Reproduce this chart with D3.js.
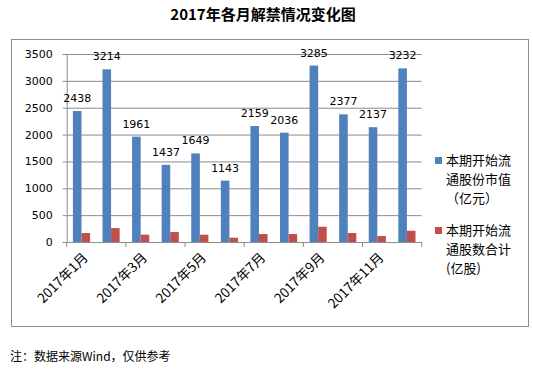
<!DOCTYPE html>
<html>
<head>
<meta charset="utf-8">
<script src="https://cdn.jsdelivr.net/npm/d3@7"></script>
<style>
  body { margin: 0; background: #fff; }
  svg { display: block; }
</style>
</head>
<body>
<svg id="chart" width="533" height="372"></svg>
<script>
// data
var months = ["2017年1月", "2017年2月", "2017年3月", "2017年4月", "2017年5月", "2017年6月",
  "2017年7月", "2017年8月", "2017年9月", "2017年10月", "2017年11月", "2017年12月"];
var marketValue = [2438, 3214, 1961, 1437, 1649, 1143, 2159, 2036, 3285, 2377, 2137, 3232]; // 亿元
var shareCount = [167, 259, 136, 185, 136, 80, 148, 148, 284, 167, 111, 210];              // 亿股
var seriesNames = [["本期开始流", "通股份市值", "（亿元）"], ["本期开始流", "通股数合计", "(亿股)"]];
var yTicks = [0, 500, 1000, 1500, 2000, 2500, 3000, 3500];

var blue = "#4f81bd", red = "#c0504d";
var cjk = "'Noto Sans CJK SC', sans-serif";
var num = "'DejaVu Sans', sans-serif";

var svg = d3.select("#chart");
var plot = {left: 66.7, right: 421.7, top: 54, bottom: 242};

// outer frame
svg.append("rect")
  .attr("x", 11.5).attr("y", 39.5)
  .attr("width", 517).attr("height", 287)
  .attr("fill", "none").attr("stroke", "#8c8c8c");

svg.append("text")
  .attr("x", 263).attr("y", 20)
  .attr("text-anchor", "middle")
  .style("font-family", cjk).style("font-size", "15px").style("font-weight", "bold")
  .text("2017年各月解禁情况变化图");

var x = d3.scaleBand()
  .domain(months)
  .range([plot.left, plot.right])
  .paddingInner(0.42)
  .paddingOuter(0.21);

var xSub = d3.scaleBand()
  .domain([0, 1])
  .range([0, x.bandwidth()]);

var y = d3.scaleLinear()
  .domain([0, 3500])
  .range([plot.bottom, plot.top]);

// gridlines + y axis
var yAxis = svg.append("g")
  .attr("transform", "translate(" + plot.left + ",0)")
  .call(d3.axisLeft(y).tickValues(yTicks).tickFormat(d3.format("d")).tickSize(4).tickPadding(10));
yAxis.select(".domain").attr("stroke", "#8c8c8c");
yAxis.selectAll(".tick line").attr("stroke", "#8c8c8c");
yAxis.selectAll(".tick text")
  .style("font-family", num).style("font-size", "11px").attr("fill", "#000");

svg.append("g").selectAll("line")
  .data(yTicks.slice(1))
  .enter().append("line")
  .attr("x1", plot.left).attr("x2", plot.right)
  .attr("y1", function(d) { return y(d) + 0.5; })
  .attr("y2", function(d) { return y(d) + 0.5; })
  .attr("stroke", "#8c8c8c");

// bars
var groups = svg.append("g").selectAll("g")
  .data(months)
  .enter().append("g")
  .attr("transform", function(d) { return "translate(" + x(d) + ",0)"; });

groups.append("rect")
  .attr("x", xSub(0))
  .attr("width", xSub.bandwidth())
  .attr("y", function(d, i) { return y(marketValue[i]); })
  .attr("height", function(d, i) { return plot.bottom - y(marketValue[i]); })
  .attr("fill", blue);

groups.append("rect")
  .attr("x", xSub(1))
  .attr("width", xSub.bandwidth())
  .attr("y", function(d, i) { return y(shareCount[i]); })
  .attr("height", function(d, i) { return plot.bottom - y(shareCount[i]); })
  .attr("fill", red);

groups.append("text")
  .attr("x", xSub(0) + xSub.bandwidth() / 2)
  .attr("y", function(d, i) { return y(marketValue[i]) - 9; })
  .attr("text-anchor", "middle")
  .style("font-family", num).style("font-size", "11px")
  .text(function(d, i) { return marketValue[i]; });

// x axis
svg.append("line")
  .attr("x1", plot.left).attr("x2", plot.right)
  .attr("y1", plot.bottom + 0.5).attr("y2", plot.bottom + 0.5)
  .attr("stroke", "#8c8c8c");

var gap = (x.step() - x.bandwidth()) / 2;
var boundaries = months.filter(function(d, i) { return i % 2 === 0; })
  .map(function(d) { return x(d) - gap; });
boundaries.push(plot.right);

svg.append("g").selectAll("line")
  .data(boundaries)
  .enter().append("line")
  .attr("x1", function(d) { return d; }).attr("x2", function(d) { return d; })
  .attr("y1", plot.bottom).attr("y2", plot.bottom + 5)
  .attr("stroke", "#8c8c8c");

svg.append("g").selectAll("text")
  .data(months.filter(function(d, i) { return i % 2 === 0; }))
  .enter().append("text")
  .attr("transform", function(d) {
    return "translate(" + (x(d) + x.bandwidth() / 2 + 4) + "," + (plot.bottom + 13) + ") rotate(-45)";
  })
  .attr("text-anchor", "end")
  .attr("dy", "0.35em")
  .style("font-family", cjk).style("font-size", "13.5px")
  .text(function(d) { return d; });

// legend
var legend = svg.append("g").selectAll("g")
  .data(seriesNames)
  .enter().append("g")
  .attr("transform", function(d, i) { return "translate(435," + (157 + i * 70) + ")"; });

legend.append("rect")
  .attr("width", 7).attr("height", 7)
  .attr("fill", function(d, i) { return i === 0 ? blue : red; });

legend.selectAll("text")
  .data(function(d) { return d; })
  .enter().append("text")
  .attr("x", 11)
  .attr("y", function(d, i) { return 8 + i * 19; })
  .style("font-family", cjk).style("font-size", "13px")
  .text(function(d) { return d; });

svg.append("text")
  .attr("x", 10).attr("y", 361)
  .style("font-family", cjk).style("font-size", "12px")
  .text("注：数据来源Wind，仅供参考");
</script>
</body>
</html>
